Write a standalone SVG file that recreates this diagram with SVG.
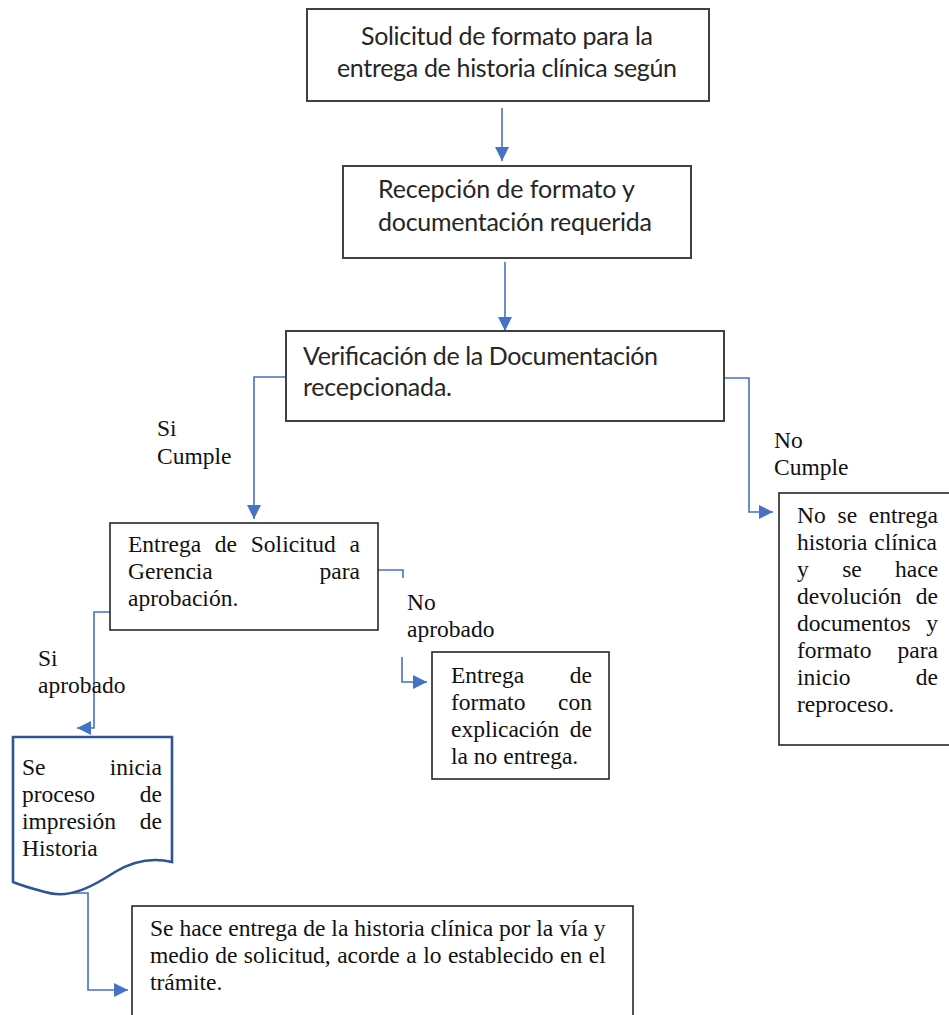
<svg xmlns="http://www.w3.org/2000/svg" width="949" height="1015" viewBox="0 0 949 1015">
<style>
.box{fill:#fff;stroke:#262626;stroke-width:1.6}
.gbox{fill:#fff;stroke:#404040;stroke-width:2}
.doc{fill:#fff;stroke:#2F5597;stroke-width:2.6}
.sans{font-family:Lato,"Liberation Sans",sans-serif;font-size:25px;fill:#262626}
.serif{font-family:"Liberation Serif","Times New Roman",serif;font-size:23.5px;fill:#111}
.con{fill:none;stroke:#4472C4;stroke-width:1.6}
</style>
<defs>
<marker id="ah" markerUnits="userSpaceOnUse" markerWidth="14" markerHeight="14" viewBox="0 0 14 14" refX="14" refY="7" orient="auto">
<path d="M0,0 L14,7 L0,14 z" fill="#4472C4"/>
</marker>
</defs>
<rect width="949" height="1015" fill="#fff"/>

<g id="connectors">
<path class="con" d="M502,108 V161" marker-end="url(#ah)"/>
<path class="con" d="M505,262 V331" marker-end="url(#ah)"/>
<path class="con" d="M286,377 H254 V519" marker-end="url(#ah)"/>
<path class="con" d="M724,378 H749 V512 H773" marker-end="url(#ah)"/>
<path class="con" d="M378,570 H403 V578"/>
<path class="con" d="M402,657 V682 H427" marker-end="url(#ah)"/>
<path class="con" d="M110,612 H94 V728 H77" marker-end="url(#ah)"/>
<path class="con" d="M50,893 H88 V990 H128" marker-end="url(#ah)"/>
</g>

<g id="node1">
<rect class="gbox" x="307" y="9" width="402" height="92"/>
<text class="sans" x="361" y="45" textLength="292">Solicitud de formato para la</text>
<text class="sans" x="337" y="77" textLength="340">entrega de historia clínica según</text>
</g>

<g id="node2">
<rect class="gbox" x="343" y="166" width="348" height="92"/>
<text class="sans" x="378" y="198" textLength="257">Recepción de formato y</text>
<text class="sans" x="378" y="231" textLength="274">documentación requerida</text>
</g>

<g id="node3">
<rect class="gbox" x="286" y="331" width="438" height="90"/>
<text class="sans" x="303" y="365" textLength="355">Verificación de la Documentación</text>
<text class="sans" x="303" y="396" textLength="149">recepcionada.</text>
</g>

<g id="label-si-cumple">
<text class="serif" x="157" y="436">Si</text>
<text class="serif" x="157" y="464">Cumple</text>
</g>

<g id="label-no-cumple">
<text class="serif" x="774" y="448">No</text>
<text class="serif" x="774" y="475">Cumple</text>
</g>

<g id="node4">
<rect class="box" x="110" y="523" width="268" height="107"/>
<text class="serif" x="128" y="552" word-spacing="7.9">Entrega de Solicitud a</text>
<text class="serif" x="128" y="579">Gerencia</text>
<text class="serif" x="360" y="579" text-anchor="end">para</text>
<text class="serif" x="128" y="606">aprobación.</text>
</g>

<g id="label-no-aprobado">
<text class="serif" x="407" y="610">No</text>
<text class="serif" x="407" y="637">aprobado</text>
</g>

<g id="label-si-aprobado">
<text class="serif" x="38" y="666">Si</text>
<text class="serif" x="38" y="693">aprobado</text>
</g>

<g id="node5">
<rect class="box" x="779" y="493" width="175" height="252"/>
<text class="serif" x="797" y="523" word-spacing="5.9">No se entrega</text>
<text class="serif" x="797" y="550" word-spacing="1">historia clínica</text>
<text class="serif" x="797" y="577" word-spacing="27.5">y se hace</text>
<text class="serif" x="797" y="604" word-spacing="8.5">devolución de</text>
<text class="serif" x="797" y="631" word-spacing="9.8">documentos y</text>
<text class="serif" x="797" y="658">formato</text>
<text class="serif" x="938" y="658" text-anchor="end">para</text>
<text class="serif" x="797" y="685">inicio</text>
<text class="serif" x="938" y="685" text-anchor="end">de</text>
<text class="serif" x="797" y="712">reproceso.</text>
</g>

<g id="node6">
<rect class="box" x="432" y="652" width="177" height="127"/>
<text class="serif" x="451" y="683">Entrega</text>
<text class="serif" x="592" y="683" text-anchor="end">de</text>
<text class="serif" x="451" y="710">formato</text>
<text class="serif" x="592" y="710" text-anchor="end">con</text>
<text class="serif" x="451" y="737" word-spacing="4.6">explicación de</text>
<text class="serif" x="451" y="764">la no entrega.</text>
</g>

<g id="node7">
<path class="doc" d="M13,737 H172 V862 C155,858 135,860 115,872 C95,885 70,900 45,892 C30,888 20,885 13,882 Z"/>
<text class="serif" x="22" y="775">Se</text>
<text class="serif" x="162" y="775" text-anchor="end">inicia</text>
<text class="serif" x="22" y="802">proceso</text>
<text class="serif" x="162" y="802" text-anchor="end">de</text>
<text class="serif" x="22" y="829">impresión</text>
<text class="serif" x="162" y="829" text-anchor="end">de</text>
<text class="serif" x="22" y="856">Historia</text>
</g>

<g id="node8">
<rect class="box" x="132" y="906" width="501" height="120"/>
<text class="serif" x="150" y="936">Se hace entrega de la historia clínica por la vía y</text>
<text class="serif" x="150" y="963" word-spacing="0.6">medio de solicitud, acorde a lo establecido en el</text>
<text class="serif" x="150" y="990">trámite.</text>
</g>
</svg>
